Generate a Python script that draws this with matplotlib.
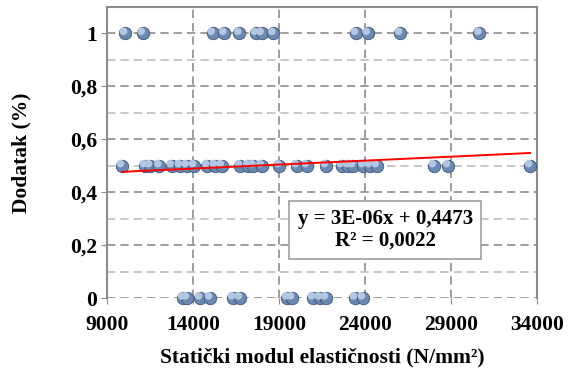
import numpy as np
import matplotlib.pyplot as plt

# values
x_one = [10050, 11080, 15150, 15820, 16690, 17660, 17990, 18670, 23480, 24160, 26040, 30650]
x_half = [9870, 11210, 11500, 12040, 12760, 13240, 13630, 14060, 14830, 15280, 15670, 16730,
          17220, 17510, 17990, 19020, 20030, 20610, 21730, 22650, 23030, 23320, 23900, 24290,
          24680, 28010, 28830, 33600]
x_zero = [13420, 13650, 14410, 14990, 16330, 16730, 19470, 19760, 20980, 21380, 21730, 23420, 23880]

slope = 3e-06
intercept = 0.4473
eq_text = "y = 3E-06x + 0,4473\nR² = 0,0022"

xticks = [9000, 14000, 19000, 24000, 29000, 34000]
yticks = [0, 0.2, 0.4, 0.6, 0.8, 1]
ytick_labels = ["0", "0,2", "0,4", "0,6", "0,8", "1"]

plt.rcParams['font.family'] = ['Liberation Serif', 'DejaVu Serif']
plt.rcParams['font.weight'] = 'bold'

fig = plt.figure(figsize=(5.75, 3.72), dpi=100)
ax = fig.add_axes([107 / 575, 1 - 298 / 372, 430 / 575, 291 / 372])

xs = np.array(x_one + x_half + x_zero)
ys = np.array([1] * len(x_one) + [0.5] * len(x_half) + [0] * len(x_zero))

# sphere-like markers: dark base plus a lighter highlight
ax.scatter(xs, ys, s=80, color='#6b88b0', edgecolor='#3e5679', linewidth=0.6, zorder=3, clip_on=False)
ax.scatter(xs - 90, ys + 0.008, s=30, color='#b3c7e2', edgecolor='none', zorder=4, clip_on=False)

# trendline
tx = np.array([min(xs), max(xs)])
ax.plot(tx, slope * tx + intercept, color='#ff0000', linewidth=1.4, zorder=5)

ax.set_xlim(9000, 34000)
ax.set_ylim(0, 1.1)
ax.set_xticks(xticks)
ax.set_xticklabels([str(v) for v in xticks])
ax.set_yticks(yticks)
ax.set_yticklabels(ytick_labels)
ax.set_yticks([0.1, 0.3, 0.5, 0.7, 0.9], minor=True)

ax.grid(True, which='major', axis='both', color='#8c8c8c', linestyle=(0, (5, 3)), linewidth=1.2)
ax.grid(True, which='minor', axis='y', color='#bfbfbf', linestyle=(0, (5, 3)), linewidth=1.2)
ax.tick_params(axis='both', which='major', labelsize=15.5, length=4, color='#8c8c8c', direction='out')
ax.tick_params(axis='y', which='minor', length=0)
ax.tick_params(axis='x', pad=8)
ax.tick_params(axis='y', pad=3)

for side in ['left', 'top', 'right']:
    ax.spines[side].set_color('#8c8c8c')
    ax.spines[side].set_linewidth(1.5)
ax.spines['bottom'].set_visible(False)

ax.set_xlabel("Statički modul elastičnosti (N/mm²)", fontsize=15.5, fontweight='bold', labelpad=9)
ax.set_ylabel("Dodatak (%)", fontsize=15.5, fontweight='bold', labelpad=28)

ax.text(0.647, 0.234, eq_text, transform=ax.transAxes, ha='center', va='center',
        fontsize=15, fontweight='bold', linespacing=1.1, zorder=6,
        bbox=dict(boxstyle='square,pad=0.4', facecolor='white', edgecolor='#a0a0a0', linewidth=1.2))

fig.savefig('out.png', dpi=100)
